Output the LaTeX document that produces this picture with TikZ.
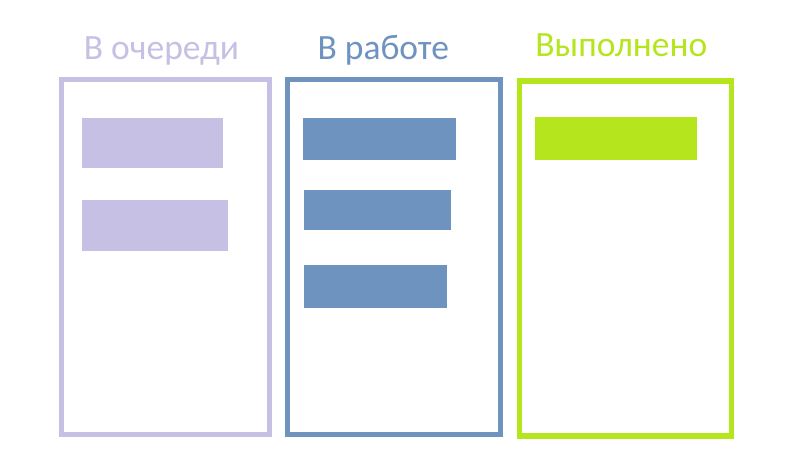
\documentclass[tikz,border=0pt]{standalone}
\usepackage{fontspec}
\setmainfont{Carlito}
\definecolor{cq}{HTML}{C6C0E5}
\definecolor{cw}{HTML}{6F93BF}
\definecolor{cd}{HTML}{B5E61D}
\begin{document}
\begin{tikzpicture}[x=1pt,y=-1pt,
  frame/.style={draw, line width=5pt},
  card/.style={inner sep=0pt, outer sep=0pt},
  title/.style={font=\fontsize{35.5}{40}\selectfont, anchor=base, inner sep=0pt}]
\useasboundingbox[fill=white] (0,0) rectangle (804,473);
% titles
\node[title, text=cq] (t1) at (161.5,59.3) {В очереди};
\node[title, text=cw] (t2) at (383.3,59.3) {В работе};
\node[title, text=cd] (t3) at (621.3,56.7) {Выполнено};
% frames
\draw[frame, cq] (61.5,80) rectangle (269,434);
\draw[frame, cw] (287.5,80) rectangle (500.5,434);
\draw[frame, cd, line width=5.5pt] (519.5,81) rectangle (731.5,436);
% cards
\fill[cq] (82,118) rectangle (223,168);
\fill[cq] (82,200) rectangle (228,251.5);
\fill[cw] (303,118) rectangle (456,160);
\fill[cw] (304,190) rectangle (451,230);
\fill[cw] (304,265) rectangle (447,308);
\fill[cd] (535,117) rectangle (697,160.5);
\end{tikzpicture}
\end{document}
